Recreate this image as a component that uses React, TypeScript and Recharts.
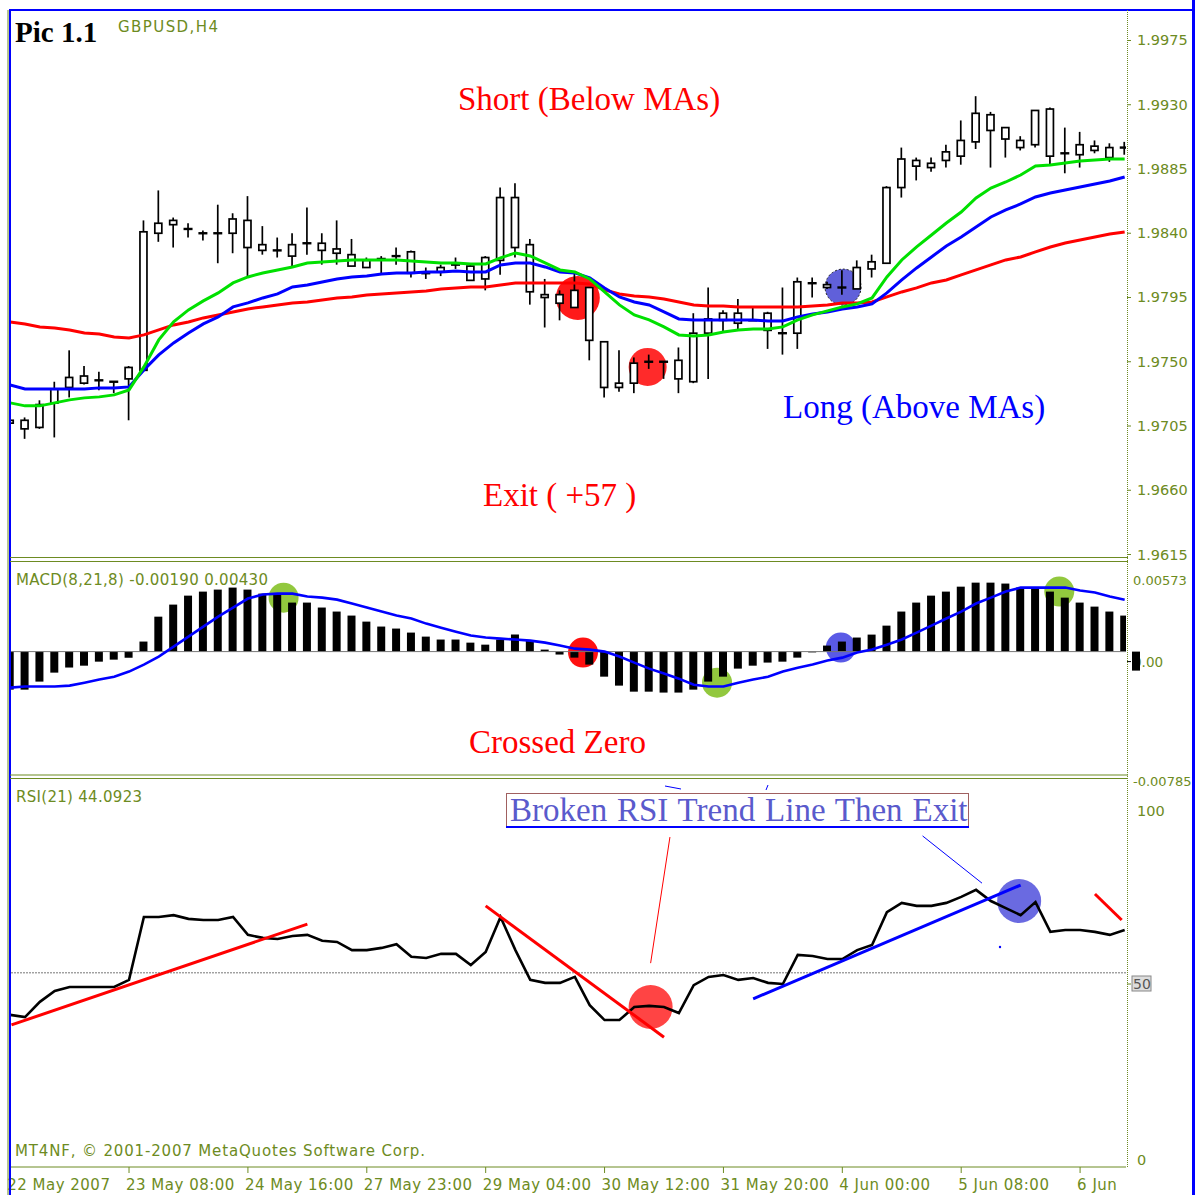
import React from "react";
import { ComposedChart, Bar, Line, XAxis, YAxis, ReferenceLine, ReferenceDot } from "recharts";

// GBPUSD H4, one entry per bar
const open = [
  1.9709, 1.9703, 1.9704, 1.9721, 1.9732, 1.9735, 1.9737, 1.9736, 1.9738, 1.9744,
  1.9840, 1.9846, 1.9843, 1.9840, 1.9840, 1.9840, 1.9849, 1.9832, 1.9828, 1.9824,
  1.9833, 1.9833, 1.9829, 1.9825, 1.9816, 1.9822, 1.9824, 1.9827, 1.9812, 1.9813,
  1.9818, 1.9817, 1.9808, 1.9821, 1.9865, 1.9832, 1.9797, 1.9791, 1.9788, 1.9802,
  1.9764, 1.9732, 1.9735, 1.9750, 1.9750, 1.9738, 1.9736, 1.9770, 1.9779, 1.9784,
  1.9779, 1.9784, 1.9770, 1.9770, 1.9805, 1.9804, 1.9802, 1.9801, 1.9815, 1.9819,
  1.9872, 1.9891, 1.9886, 1.9891, 1.9894, 1.9904, 1.9923, 1.9914, 1.9900, 1.9902,
  1.9927, 1.9896, 1.9895, 1.9901, 1.9893, 1.9900,
];
const high = [
  1.9711, 1.9711, 1.9723, 1.9736, 1.9758, 1.9747, 1.9743, 1.9736, 1.9747, 1.9849,
  1.9870, 1.9851, 1.9847, 1.9842, 1.9860, 1.9854, 1.9866, 1.9845, 1.9837, 1.9840,
  1.9858, 1.9840, 1.9849, 1.9836, 1.9823, 1.9824, 1.9830, 1.9828, 1.9816, 1.9818,
  1.9823, 1.9818, 1.9824, 1.9872, 1.9875, 1.9836, 1.9808, 1.9800, 1.9812, 1.9802,
  1.9764, 1.9758, 1.9753, 1.9755, 1.9750, 1.9760, 1.9784, 1.9802, 1.9786, 1.9794,
  1.9788, 1.9785, 1.9802, 1.9809, 1.9809, 1.9806, 1.9814, 1.9821, 1.9825, 1.9873,
  1.9900, 1.9893, 1.9893, 1.9902, 1.9919, 1.9936, 1.9925, 1.9914, 1.9908, 1.9926,
  1.9928, 1.9914, 1.9911, 1.9905, 1.9903, 1.9904,
];
const low = [
  1.9706, 1.9696, 1.9703, 1.9697, 1.9725, 1.9734, 1.9730, 1.9728, 1.9709, 1.9744,
  1.9834, 1.9830, 1.9837, 1.9835, 1.9819, 1.9826, 1.9810, 1.9825, 1.9823, 1.9816,
  1.9825, 1.9818, 1.9818, 1.9817, 1.9816, 1.9812, 1.9818, 1.9809, 1.9808, 1.9810,
  1.9815, 1.9807, 1.9800, 1.9811, 1.9823, 1.9790, 1.9774, 1.9779, 1.9788, 1.9751,
  1.9725, 1.9729, 1.9728, 1.9745, 1.9738, 1.9728, 1.9735, 1.9738, 1.9771, 1.9773,
  1.9779, 1.9759, 1.9755, 1.9759, 1.9795, 1.9801, 1.9797, 1.9801, 1.9809, 1.9819,
  1.9865, 1.9877, 1.9883, 1.9886, 1.9888, 1.9899, 1.9886, 1.9893, 1.9898, 1.9900,
  1.9888, 1.9882, 1.9886, 1.9896, 1.9890, 1.9895,
];
const close = [
  1.9707, 1.9709, 1.9720, 1.9731, 1.9739, 1.9740, 1.9737, 1.9736, 1.9746, 1.9841,
  1.9847, 1.9849, 1.9843, 1.9840, 1.9840, 1.9850, 1.9830, 1.9828, 1.9828, 1.9832,
  1.9833, 1.9828, 1.9826, 1.9817, 1.9821, 1.9822, 1.9824, 1.9812, 1.9812, 1.9816,
  1.9818, 1.9807, 1.9823, 1.9865, 1.9830, 1.9799, 1.9795, 1.9797, 1.9800, 1.9765,
  1.9732, 1.9735, 1.9749, 1.9750, 1.9750, 1.9751, 1.9770, 1.9780, 1.9784, 1.9777,
  1.9779, 1.9772, 1.9770, 1.9806, 1.9805, 1.9802, 1.9802, 1.9816, 1.9820, 1.9872,
  1.9892, 1.9887, 1.9889, 1.9897, 1.9905, 1.9924, 1.9912, 1.9906, 1.9905, 1.9926,
  1.9894, 1.9896, 1.9902, 1.9898, 1.9900, 1.9900,
];

// moving averages (green fast, blue middle, red slow)
const maFast = [
  1.97212, 1.97191, 1.97191, 1.97212, 1.97233, 1.97247, 1.97254, 1.97268, 1.97303, 1.97464,
  1.97653, 1.97779, 1.97863, 1.97926, 1.97982, 1.98052, 1.98094, 1.98122, 1.98143, 1.98164,
  1.98192, 1.98199, 1.98206, 1.98213, 1.98213, 1.98213, 1.98213, 1.98206, 1.98199, 1.98192,
  1.98192, 1.98185, 1.98185, 1.98227, 1.98262, 1.98241, 1.98192, 1.98143, 1.98129, 1.98080,
  1.97989, 1.97898, 1.97828, 1.97793, 1.97744, 1.97688, 1.97681, 1.97688, 1.97709, 1.97723,
  1.97730, 1.97730, 1.97744, 1.97793, 1.97828, 1.97856, 1.97884, 1.97905, 1.97947, 1.98094,
  1.98213, 1.98304, 1.98388, 1.98472, 1.98549, 1.98647, 1.98717, 1.98759, 1.98808, 1.98871,
  1.98878, 1.98892, 1.98906, 1.98913, 1.98920, 1.98920,
];
const maMid = [
  1.97338, 1.97310, 1.97310, 1.97310, 1.97310, 1.97310, 1.97317, 1.97317, 1.97324, 1.97443,
  1.97548, 1.97632, 1.97702, 1.97765, 1.97814, 1.97884, 1.97912, 1.97947, 1.97975, 1.98024,
  1.98038, 1.98059, 1.98080, 1.98094, 1.98101, 1.98115, 1.98122, 1.98122, 1.98129, 1.98129,
  1.98136, 1.98129, 1.98129, 1.98178, 1.98192, 1.98192, 1.98164, 1.98129, 1.98122, 1.98087,
  1.98017, 1.97954, 1.97919, 1.97898, 1.97849, 1.97800, 1.97793, 1.97793, 1.97793, 1.97793,
  1.97793, 1.97786, 1.97786, 1.97814, 1.97835, 1.97849, 1.97870, 1.97884, 1.97905, 1.97982,
  1.98073, 1.98157, 1.98234, 1.98311, 1.98374, 1.98444, 1.98514, 1.98563, 1.98605, 1.98654,
  1.98682, 1.98703, 1.98724, 1.98745, 1.98766, 1.98794,
];
const maSlow = [
  1.97779, 1.97765, 1.97744, 1.97737, 1.97723, 1.97702, 1.97695, 1.97674, 1.97667, 1.97688,
  1.97723, 1.97758, 1.97779, 1.97807, 1.97828, 1.97849, 1.97870, 1.97884, 1.97898, 1.97912,
  1.97919, 1.97933, 1.97947, 1.97954, 1.97968, 1.97975, 1.97982, 1.97989, 1.97996, 1.98010,
  1.98017, 1.98024, 1.98024, 1.98038, 1.98052, 1.98052, 1.98052, 1.98052, 1.98052, 1.98045,
  1.98003, 1.97975, 1.97961, 1.97954, 1.97940, 1.97919, 1.97898, 1.97891, 1.97891, 1.97884,
  1.97884, 1.97884, 1.97884, 1.97884, 1.97891, 1.97898, 1.97912, 1.97912, 1.97919, 1.97954,
  1.97989, 1.98017, 1.98052, 1.98073, 1.98108, 1.98143, 1.98178, 1.98213, 1.98234, 1.98269,
  1.98304, 1.98332, 1.98353, 1.98374, 1.98395, 1.98409,
];

// MACD(8,21,8)
const macdHist = [
  -0.00246, -0.00246, -0.00194, -0.00136, -0.00103, -0.00091, -0.00065, -0.00052, -0.00039, 0.00065,
  0.00226, 0.00304, 0.00362, 0.00388, 0.00401, 0.00414, 0.00401, 0.00375, 0.00375, 0.00317,
  0.00317, 0.00285, 0.00259, 0.00233, 0.00194, 0.00162, 0.00149, 0.00123, 0.00097, 0.00078,
  0.00078, 0.00058, 0.00045, 0.00078, 0.0011, 0.00071, 0.00013, -0.00019, -0.00039, -0.00084,
  -0.00162, -0.0022, -0.00259, -0.00259, -0.00265, -0.00265, -0.00246, -0.00194, -0.00162, -0.0011,
  -0.00091, -0.00071, -0.00065, -0.00039, -0.00005, 0.00039, 0.00065, 0.00091, 0.0011, 0.00168,
  0.00259, 0.00317, 0.00362, 0.00388, 0.0042, 0.00446, 0.00446, 0.0044, 0.00414, 0.00414,
  0.00388, 0.00349, 0.00317, 0.00291, 0.00259, 0.00233,
];
const macdSignal = [
  -0.00233, -0.00226, -0.00226, -0.00226, -0.0022, -0.00201, -0.00181, -0.00162, -0.00129, -0.00084,
  -0.00032, 0.00032, 0.00097, 0.00162, 0.00226, 0.00285, 0.00343, 0.00369, 0.00375, 0.00375,
  0.00356, 0.00349, 0.00336, 0.00311, 0.00285, 0.00259, 0.00233, 0.00214, 0.00181, 0.00155,
  0.00129, 0.00104, 0.00091, 0.00084, 0.00078, 0.00071, 0.00058, 0.00039, 0.00019, 0.00013,
  0.0, -0.00032, -0.00071, -0.0011, -0.00142, -0.00175, -0.00214, -0.00226, -0.00226, -0.00201,
  -0.00181, -0.00162, -0.00129, -0.00104, -0.00084, -0.00058, -0.00039, -0.00006, 0.00013, 0.00045,
  0.00078, 0.00123, 0.00168, 0.00214, 0.00259, 0.00311, 0.00349, 0.00388, 0.00414, 0.00414,
  0.00414, 0.00414, 0.00395, 0.00382, 0.00356, 0.00336,
];

// RSI(21)
const rsi = [
  40.9, 40.3, 44.4, 47.3, 48.4, 48.4, 48.4, 48.4, 50.3, 67.2,
  67.2, 67.7, 66.7, 66.4, 66.4, 67.2, 62.4, 61.6, 61.3, 62.1,
  62.4, 60.8, 60.5, 58.3, 58.3, 58.9, 59.9, 56.5, 56.2, 57.3,
  57.3, 54.3, 57.8, 67.2, 58.3, 50.3, 49.5, 49.5, 51.1, 43.5,
  39.5, 39.5, 43.0, 43.3, 43.0, 41.4, 48.9, 51.1, 51.6, 50.3,
  50.8, 49.5, 49.2, 57.0, 56.7, 55.9, 55.9, 58.3, 59.7, 68.5,
  71.0, 70.2, 70.2, 71.0, 72.6, 74.5, 71.5, 69.6, 67.7, 71.2,
  63.2, 63.7, 63.7, 63.2, 62.4, 63.7,
];

const dateLabels = [
  "22 May 2007", "23 May 08:00", "24 May 16:00", "27 May 23:00", "29 May 04:00",
  "30 May 12:00", "31 May 20:00", "4 Jun 00:00", "5 Jun 08:00", "6 Jun",
];
const dateTicks = [0, 8, 16, 24, 32, 40, 48, 56, 64, 72];
const priceTicks = [1.9615, 1.966, 1.9705, 1.975, 1.9795, 1.984, 1.9885, 1.993, 1.9975];
const macdTicks = [0.00573, 0, -0.00785];
const rsiTicks = [100, 50, 0];

const rows = open.map((o, i) => ({
  i,
  range: [low[i], high[i]],
  open: o,
  high: high[i],
  low: low[i],
  close: close[i],
  fast: maFast[i],
  mid: maMid[i],
  slow: maSlow[i],
  hist: macdHist[i],
  signal: macdSignal[i],
  rsi: rsi[i],
}));

const OLIVE = "#6d8b22";
const SANS = "DejaVu Sans, Verdana, sans-serif";
const SERIF = "Liberation Serif, Times New Roman, serif";
const X_DOMAIN: [number, number] = [-0.01, 75.09];
const PRICE_DOMAIN: [number, number] = [1.961325, 1.999636];
const MACD_DOMAIN: [number, number] = [-0.00785, 0.00573];

function Candle(props: any) {
  const { x, y, width, height, payload } = props;
  if (x == null || !payload) return null;
  const top = height < 0 ? y + height : y;
  const h = Math.abs(height);
  const span = payload.high - payload.low || 1;
  const toY = (v: number) => top + ((payload.high - v) / span) * h;
  const cx = x + width / 2;
  const bt = toY(Math.max(payload.open, payload.close));
  const bb = toY(Math.min(payload.open, payload.close));
  return (
    <g>
      <line x1={cx} x2={cx} y1={top} y2={top + h} stroke="#000" strokeWidth={1.7} />
      {bb - bt < 1.5 ? (
        <line x1={cx - 4.5} x2={cx + 4.5} y1={bt} y2={bt} stroke="#000" strokeWidth={2.4} />
      ) : (
        <rect x={cx - 3.5} y={bt} width={7} height={bb - bt} fill="#fff" stroke="#000" strokeWidth={1.7} />
      )}
    </g>
  );
}

function PriceTick({ x, y, payload }: any) {
  return (
    <g>
      <line x1={x + 1} x2={x + 5} y1={y} y2={y} stroke={OLIVE} />
      <text x={x + 11} y={y + 5} fontFamily={SANS} fontSize={14.5} fill={OLIVE}>
        {payload.value.toFixed(4)}
      </text>
    </g>
  );
}

function MacdTick({ x, y, payload }: any) {
  const v = payload.value;
  if (v === 0) {
    return (
      <g>
        <line x1={x + 1} x2={x + 5} y1={y + 10} y2={y + 10} stroke="#000" />
        <text x={x + 7} y={y + 15} fontFamily={SANS} fontSize={13.5} fill={OLIVE}>0.00</text>
        <rect x={x + 6} y={y} width={8} height={19} fill="#000" />
      </g>
    );
  }
  const dy = v > 0 ? 22 : 13;
  return (
    <text x={x + 7} y={y + dy} fontFamily={SANS} fontSize={13} fill={OLIVE}>
      {v.toFixed(5)}
    </text>
  );
}

function RsiTick({ x, y, payload }: any) {
  const v = payload.value;
  if (v === 50) {
    return (
      <g>
        <line x1={x + 1} x2={x + 5} y1={y + 3} y2={y + 3} stroke={OLIVE} />
        <rect x={x + 6} y={y - 5} width={19} height={15} fill="#ddd" stroke="#888" />
        <text x={x + 7} y={y + 8} fontFamily={SANS} fontSize={14} fill="#555">50</text>
      </g>
    );
  }
  const dy = v === 100 ? 21 : -2;
  return (
    <text x={x + 11} y={y + dy} fontFamily={SANS} fontSize={14.5} fill={OLIVE}>
      {v}
    </text>
  );
}

function DateTick({ x, y, payload }: any) {
  const k = dateTicks.indexOf(payload.value);
  return (
    <text x={x - 3} y={y + 17} fontFamily={SANS} fontSize={15} letterSpacing={0.5} fill={OLIVE}>
      {dateLabels[k]}
    </text>
  );
}

// the highlight circles sit under the candles and lines, so they get their own chart behind
function PriceBack() {
  return (
    <ComposedChart width={1196} height={565} data={rows} margin={{ top: 10, right: 0, left: 10, bottom: 8 }}>
      <XAxis dataKey="i" type="number" domain={X_DOMAIN} allowDataOverflow hide />
      <YAxis orientation="right" width={70} type="number" domain={PRICE_DOMAIN} allowDataOverflow tick={false} axisLine={false} tickLine={false} />
      <ReferenceDot x={38.2} y={1.97947} r={22} fill="#ff1a1a" stroke="none" />
      <ReferenceDot x={42.9} y={1.97464} r={19} fill="#ff2a2a" stroke="none" />
      <ReferenceDot x={56.05} y={1.98023} r={18} fill="#4f4fd6" fillOpacity={0.9} stroke="#222" strokeDasharray="2 2" />
    </ComposedChart>
  );
}

function PriceFront() {
  return (
    <ComposedChart width={1196} height={565} data={rows} margin={{ top: 10, right: 0, left: 10, bottom: 8 }}>
      <XAxis dataKey="i" type="number" domain={X_DOMAIN} allowDataOverflow hide />
      <YAxis
        orientation="right"
        width={70}
        type="number"
        domain={PRICE_DOMAIN}
        allowDataOverflow
        ticks={priceTicks}
        interval={0}
        axisLine={false}
        tickLine={false}
        tickSize={0}
        tickMargin={0}
        tick={<PriceTick />}
      />
      <Bar dataKey="range" barSize={8} isAnimationActive={false} shape={(p: any) => <Candle {...p} />} />
      <Line dataKey="slow" stroke="#ff0000" strokeWidth={3} dot={false} type="linear" isAnimationActive={false} />
      <Line dataKey="mid" stroke="#0000ff" strokeWidth={3} dot={false} type="linear" isAnimationActive={false} />
      <Line dataKey="fast" stroke="#00e000" strokeWidth={3} dot={false} type="linear" isAnimationActive={false} />
    </ComposedChart>
  );
}

function MacdBack() {
  return (
    <ComposedChart width={1196} height={232} data={rows} margin={{ top: 5, right: 0, left: 10, bottom: 17 }}>
      <XAxis dataKey="i" type="number" domain={X_DOMAIN} allowDataOverflow hide />
      <YAxis orientation="right" width={70} type="number" domain={MACD_DOMAIN} allowDataOverflow tick={false} axisLine={false} tickLine={false} />
      <ReferenceDot x={18.4} y={0.00349} r={15} fill="#92c83e" stroke="none" />
      <ReferenceDot x={38.55} y={-0.00006} r={15} fill="#ff1010" stroke="none" />
      <ReferenceDot x={47.57} y={-0.00201} r={15} fill="#92c83e" stroke="none" />
      <ReferenceDot x={55.9} y={0.00026} r={15} fill="#5a5ae6" stroke="none" />
      <ReferenceDot x={70.6} y={0.00388} r={15} fill="#92c83e" stroke="none" />
    </ComposedChart>
  );
}

function MacdFront() {
  return (
    <ComposedChart width={1196} height={232} data={rows} margin={{ top: 5, right: 0, left: 10, bottom: 17 }}>
      <XAxis dataKey="i" type="number" domain={X_DOMAIN} allowDataOverflow hide />
      <YAxis
        orientation="right"
        width={70}
        type="number"
        domain={MACD_DOMAIN}
        allowDataOverflow
        ticks={macdTicks}
        interval={0}
        axisLine={false}
        tickLine={false}
        tickSize={0}
        tickMargin={0}
        tick={<MacdTick />}
      />
      <ReferenceLine y={0} stroke="#777" strokeWidth={1} />
      <Bar dataKey="hist" barSize={8} fill="#000" isAnimationActive={false} />
      <Line dataKey="signal" stroke="#0000ff" strokeWidth={2.6} dot={false} type="linear" isAnimationActive={false} />
    </ComposedChart>
  );
}

function RsiBack() {
  return (
    <ComposedChart width={1196} height={415} data={rows} margin={{ top: 15, right: 0, left: 10, bottom: 0 }}>
      <XAxis dataKey="i" type="number" domain={X_DOMAIN} allowDataOverflow height={28} tick={false} axisLine={false} tickLine={false} />
      <YAxis orientation="right" width={70} type="number" domain={[0, 100]} allowDataOverflow tick={false} axisLine={false} tickLine={false} />
      <ReferenceDot x={43.1} y={43.0} r={22} fill="#ff3030" fillOpacity={0.9} stroke="none" />
      <ReferenceDot x={67.9} y={71.5} r={22} fill="#5050dc" fillOpacity={0.85} stroke="none" />
    </ComposedChart>
  );
}

function RsiFront() {
  return (
    <ComposedChart width={1196} height={415} data={rows} margin={{ top: 15, right: 0, left: 10, bottom: 0 }}>
      <XAxis
        dataKey="i"
        type="number"
        domain={X_DOMAIN}
        allowDataOverflow
        ticks={dateTicks}
        interval={0}
        height={28}
        axisLine={{ stroke: OLIVE }}
        tickLine={{ stroke: OLIVE }}
        tickSize={6}
        tickMargin={0}
        tick={<DateTick />}
      />
      <YAxis
        orientation="right"
        width={70}
        type="number"
        domain={[0, 100]}
        allowDataOverflow
        ticks={rsiTicks}
        interval={0}
        axisLine={false}
        tickLine={false}
        tickSize={0}
        tickMargin={0}
        tick={<RsiTick />}
      />
      <ReferenceLine y={52.2} stroke="#777" strokeDasharray="2 1" strokeWidth={1} />
      <Line dataKey="rsi" stroke="#000" strokeWidth={2.6} dot={false} type="linear" isAnimationActive={false} />
      <ReferenceLine segment={[{ x: 0.09, y: 38.2 }, { x: 20.0, y: 65.3 }]} stroke="#ff0000" strokeWidth={3} />
      <ReferenceLine segment={[{ x: 32.0, y: 70.2 }, { x: 44.0, y: 34.9 }]} stroke="#ff0000" strokeWidth={3} />
      <ReferenceLine segment={[{ x: 73.0, y: 73.4 }, { x: 74.8, y: 66.4 }]} stroke="#ff0000" strokeWidth={3} />
      <ReferenceLine segment={[{ x: 50.0, y: 45.2 }, { x: 68.0, y: 75.8 }]} stroke="#0000ff" strokeWidth={3} />
      <ReferenceLine segment={[{ x: 44.4, y: 88.7 }, { x: 43.1, y: 54.8 }]} stroke="#ff0000" strokeWidth={1} />
      <ReferenceLine segment={[{ x: 61.4, y: 89.0 }, { x: 65.4, y: 76.3 }]} stroke="#0000ff" strokeWidth={1} />
    </ComposedChart>
  );
}

function Overlay() {
  return (
    <svg width={1196} height={1195} style={{ position: "absolute", left: 0, top: 0, pointerEvents: "none" }}>
      {/* frame */}
      <line x1={8} y1={10} x2={8} y2={1195} stroke={OLIVE} strokeWidth={1} />
      <line x1={10} y1={9} x2={10} y2={1195} stroke="#0000ff" strokeWidth={2} />
      <line x1={10} y1={10} x2={1193} y2={10} stroke="#0000ff" strokeWidth={2} />
      <line x1={1193.5} y1={0} x2={1193.5} y2={1195} stroke="#0000ff" strokeWidth={3} />
      <line x1={1127.5} y1={10} x2={1127.5} y2={1167} stroke={OLIVE} strokeWidth={1} strokeDasharray="1 1" />
      <line x1={10} y1={557.5} x2={1128} y2={557.5} stroke={OLIVE} strokeWidth={1.2} />
      <line x1={10} y1={561.5} x2={1128} y2={561.5} stroke={OLIVE} strokeWidth={1.2} />
      <line x1={10} y1={775} x2={1128} y2={775} stroke={OLIVE} strokeWidth={1.2} />
      <line x1={10} y1={778.5} x2={1128} y2={778.5} stroke={OLIVE} strokeWidth={1.2} />

      {/* headers */}
      <text x={15} y={42} fontFamily={SERIF} fontWeight="bold" fontSize={29} fill="#000">Pic 1.1</text>
      <text x={118} y={32} fontFamily={SANS} fontSize={15} textLength={100} lengthAdjust="spacing" fill={OLIVE}>GBPUSD,H4</text>
      <text x={16} y={585} fontFamily={SANS} fontSize={15} textLength={252} lengthAdjust="spacing" fill={OLIVE}>MACD(8,21,8) -0.00190 0.00430</text>
      <text x={16} y={802} fontFamily={SANS} fontSize={15} textLength={126} lengthAdjust="spacing" fill={OLIVE}>RSI(21) 44.0923</text>
      <text x={15} y={1156} fontFamily={SANS} fontSize={15} textLength={410} lengthAdjust="spacing" fill={OLIVE}>MT4NF, © 2001-2007 MetaQuotes Software Corp.</text>

      {/* annotations */}
      <text x={458} y={110} fontFamily={SERIF} fontSize={33} fill="#ff0000">Short (Below MAs)</text>
      <text x={783} y={418} fontFamily={SERIF} fontSize={33} fill="#0000ff">Long (Above MAs)</text>
      <text x={483} y={506} fontFamily={SERIF} fontSize={33} fill="#ff0000">Exit ( +57 )</text>
      <text x={469} y={753} fontFamily={SERIF} fontSize={33} fill="#ff0000">Crossed Zero</text>

      <rect x={506.5} y={793.5} width={462} height={34} fill="#fff" stroke="#a06060" strokeWidth={1} />
      <line x1={506} y1={827} x2={969} y2={827} stroke="#0000ff" strokeWidth={2} />
      <text x={510} y={821} fontFamily={SERIF} fontSize={33} wordSpacing={1.6} fill="#5a5acc">Broken RSI Trend Line Then Exit</text>

      <line x1={665} y1={786} x2={681} y2={789} stroke="#0000ff" strokeWidth={1} />
      <line x1={768} y1={785} x2={766} y2={790} stroke="#0000ff" strokeWidth={1} />
      <circle cx={1000} cy={947} r={1.2} fill="#0000ff" />
    </svg>
  );
}

const layer = (top: number): React.CSSProperties => ({ position: "absolute", left: 0, top });

export default function App() {
  return (
    <div style={{ position: "absolute", left: 0, top: 0, width: 1196, height: 1195, background: "#fff", overflow: "hidden" }}>
      <div style={layer(0)}><PriceBack /></div>
      <div style={layer(558)}><MacdBack /></div>
      <div style={layer(780)}><RsiBack /></div>
      <div style={layer(0)}><PriceFront /></div>
      <div style={layer(558)}><MacdFront /></div>
      <div style={layer(780)}><RsiFront /></div>
      <Overlay />
    </div>
  );
}
